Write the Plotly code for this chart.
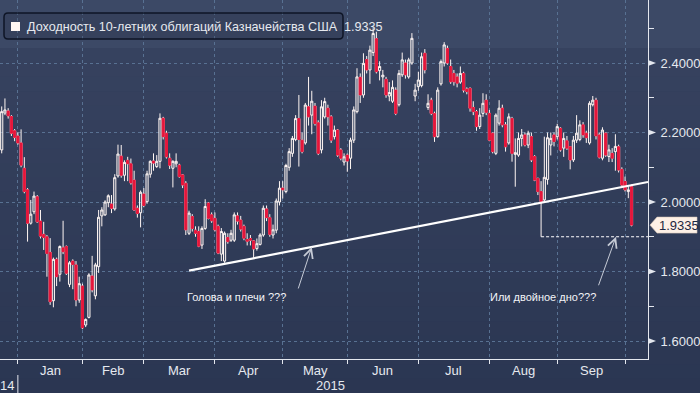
import plotly.graph_objects as go

# ---------------- data ----------------
months = ["2014-12", "2015-01", "2015-02", "2015-03", "2015-04", "2015-05",
          "2015-06", "2015-07", "2015-08", "2015-09", "2015-10"]
trading_days = {
    "2014-12": [23, 24, 26, 29, 30, 31],
    "2015-01": [2, 5, 6, 7, 8, 9, 12, 13, 14, 15, 16, 20, 21, 22, 23, 26, 27, 28, 29, 30],
    "2015-02": [2, 3, 4, 5, 6, 9, 10, 11, 12, 13, 17, 18, 19, 20, 23, 24, 25, 26, 27],
    "2015-03": [2, 3, 4, 5, 6, 9, 10, 11, 12, 13, 16, 17, 18, 19, 20, 23, 24, 25, 26, 27, 30, 31],
    "2015-04": [1, 2, 6, 7, 8, 9, 10, 13, 14, 15, 16, 17, 20, 21, 22, 23, 24, 27, 28, 29, 30],
    "2015-05": [1, 4, 5, 6, 7, 8, 11, 12, 13, 14, 15, 18, 19, 20, 21, 22, 26, 27, 28, 29],
    "2015-06": [1, 2, 3, 4, 5, 8, 9, 10, 11, 12, 15, 16, 17, 18, 19, 22, 23, 24, 25, 26, 29, 30],
    "2015-07": [1, 2, 6, 7, 8, 9, 10, 13, 14, 15, 16, 17, 20, 21, 22, 23, 24, 27, 28, 29, 30, 31],
    "2015-08": [3, 4, 5, 6, 7, 10, 11, 12, 13, 14, 17, 18, 19, 20, 21, 24, 25, 26, 27, 28, 31],
    "2015-09": [1, 2, 3, 4, 8, 9, 10, 11, 14, 15, 16, 17, 18, 21, 22, 23, 24, 25, 28, 29, 30],
    "2015-10": [1, 2],
}
month_labels = ["Jan", "Feb", "Mar", "Apr", "May", "Jun", "Jul", "Aug", "Sep"]

open_ = [
    2.150, 2.256, 2.262, 2.246, 2.205, 2.190,
    2.170, 2.097, 2.035, 1.939, 1.972, 2.015, 1.945, 1.907, 1.900, 1.855, 1.716, 1.835, 1.792, 1.868, 1.872, 1.763, 1.830, 1.819, 1.718, 1.758,
    1.646, 1.668, 1.787, 1.730, 1.814, 1.960, 1.963, 1.998, 1.994, 1.980, 2.075, 2.132, 2.077, 2.120, 2.110, 2.063, 1.982, 1.969, 2.023,
    2.001, 2.080, 2.118, 2.102, 2.117, 2.241, 2.198, 2.126, 2.097, 2.110, 2.106, 2.078, 2.054, 1.910, 1.958, 1.919, 1.915, 1.876, 1.924, 1.997, 1.963, 1.953,
    1.930, 1.850, 1.830, 1.898, 1.890, 1.890, 1.960, 1.948, 1.930, 1.892, 1.895, 1.888, 1.866, 1.878, 1.905, 1.980, 1.955, 1.905, 1.919, 2.000, 2.040,
    2.030, 2.100, 2.140, 2.180, 2.240, 2.178, 2.170, 2.274, 2.250, 2.276, 2.228, 2.150, 2.245, 2.270, 2.245, 2.188, 2.207, 2.150, 2.115, 2.135,
    2.126, 2.178, 2.260, 2.359, 2.308, 2.410, 2.380, 2.430, 2.470, 2.378, 2.360, 2.353, 2.305, 2.290, 2.322, 2.280, 2.366, 2.400, 2.360, 2.400, 2.305, 2.332,
    2.335, 2.428, 2.272, 2.293, 2.255, 2.188, 2.340, 2.400, 2.442, 2.390, 2.370, 2.360, 2.345, 2.370, 2.325, 2.327, 2.272, 2.260, 2.217, 2.255, 2.293, 2.255,
    2.198, 2.140, 2.227, 2.270, 2.222, 2.170, 2.240, 2.137, 2.135, 2.183, 2.193, 2.164, 2.188, 2.131, 2.068, 2.030, 2.006, 2.065, 2.164, 2.193, 2.188,
    2.212, 2.155, 2.176, 2.159, 2.121, 2.178, 2.180, 2.222, 2.198, 2.170, 2.280, 2.293, 2.193, 2.126, 2.198, 2.131, 2.140, 2.145, 2.159, 2.094, 2.059,
    2.030, 2.044,
]
high = [
    2.275, 2.298, 2.270, 2.250, 2.210, 2.200,
    2.209, 2.129, 2.040, 2.006, 2.030, 2.020, 1.977, 1.943, 1.905, 1.896, 1.840, 1.840, 1.875, 1.946, 1.875, 1.830, 1.835, 1.830, 1.785, 1.765,
    1.665, 1.795, 1.845, 1.825, 1.977, 1.985, 2.005, 2.022, 2.020, 2.080, 2.165, 2.164, 2.120, 2.130, 2.125, 2.090, 1.990, 2.033, 2.040,
    2.090, 2.120, 2.140, 2.135, 2.255, 2.245, 2.205, 2.140, 2.120, 2.140, 2.110, 2.080, 2.060, 1.975, 1.965, 1.930, 1.930, 1.930, 2.008, 2.000, 1.970, 1.970,
    1.935, 1.925, 1.915, 1.910, 1.920, 1.970, 1.970, 1.960, 1.935, 1.910, 1.905, 1.890, 1.895, 1.910, 1.990, 1.990, 1.965, 1.935, 2.010, 2.060, 2.060,
    2.110, 2.155, 2.190, 2.250, 2.308, 2.200, 2.285, 2.360, 2.320, 2.285, 2.235, 2.293, 2.300, 2.280, 2.250, 2.220, 2.210, 2.155, 2.140, 2.140,
    2.185, 2.275, 2.385, 2.370, 2.428, 2.420, 2.450, 2.500, 2.490, 2.405, 2.380, 2.360, 2.345, 2.350, 2.330, 2.380, 2.430, 2.410, 2.415, 2.486, 2.340, 2.375,
    2.430, 2.440, 2.310, 2.300, 2.260, 2.330, 2.410, 2.460, 2.450, 2.410, 2.380, 2.370, 2.390, 2.375, 2.330, 2.330, 2.290, 2.265, 2.270, 2.313, 2.310, 2.265,
    2.200, 2.255, 2.293, 2.280, 2.230, 2.255, 2.245, 2.183, 2.200, 2.210, 2.200, 2.205, 2.200, 2.135, 2.070, 2.060, 2.188, 2.200, 2.200, 2.200, 2.225,
    2.215, 2.200, 2.190, 2.160, 2.190, 2.250, 2.235, 2.230, 2.205, 2.290, 2.305, 2.300, 2.200, 2.215, 2.200, 2.165, 2.155, 2.195, 2.165, 2.100, 2.073,
    2.049, 2.050,
]
low = [
    2.140, 2.250, 2.240, 2.190, 2.175, 2.165,
    2.100, 2.025, 1.886, 1.935, 1.965, 1.940, 1.895, 1.862, 1.785, 1.704, 1.697, 1.758, 1.771, 1.850, 1.790, 1.755, 1.749, 1.700, 1.710, 1.634,
    1.640, 1.665, 1.740, 1.720, 1.796, 1.930, 1.960, 1.985, 1.968, 1.975, 2.070, 2.070, 2.060, 2.060, 2.050, 1.975, 1.955, 1.927, 1.985,
    1.995, 2.070, 2.090, 2.098, 2.097, 2.180, 2.125, 2.095, 2.042, 2.100, 2.070, 2.040, 1.905, 1.905, 1.915, 1.900, 1.870, 1.865, 1.920, 1.950, 1.940, 1.915,
    1.850, 1.830, 1.825, 1.880, 1.885, 1.885, 1.935, 1.915, 1.890, 1.875, 1.875, 1.839, 1.860, 1.875, 1.900, 1.945, 1.900, 1.895, 1.910, 1.990, 2.010,
    2.025, 2.090, 2.130, 2.175, 2.102, 2.140, 2.165, 2.220, 2.195, 2.220, 2.135, 2.140, 2.240, 2.220, 2.170, 2.180, 2.130, 2.120, 2.105, 2.087,
    2.095, 2.170, 2.255, 2.285, 2.300, 2.370, 2.340, 2.420, 2.370, 2.350, 2.330, 2.300, 2.290, 2.285, 2.250, 2.275, 2.360, 2.355, 2.355, 2.395, 2.290, 2.320,
    2.330, 2.370, 2.265, 2.250, 2.173, 2.185, 2.335, 2.390, 2.395, 2.340, 2.335, 2.330, 2.340, 2.315, 2.310, 2.260, 2.250, 2.205, 2.210, 2.245, 2.250, 2.175,
    2.140, 2.135, 2.220, 2.215, 2.145, 2.165, 2.116, 2.044, 2.130, 2.160, 2.160, 2.155, 2.115, 2.060, 2.020, 1.900, 2.000, 2.050, 2.134, 2.160, 2.180,
    2.145, 2.130, 2.150, 2.094, 2.115, 2.170, 2.175, 2.185, 2.170, 2.165, 2.275, 2.180, 2.125, 2.120, 2.130, 2.115, 2.115, 2.090, 2.085, 2.045, 2.030,
    2.011, 1.930,
]
close = [
    2.260, 2.265, 2.248, 2.198, 2.186, 2.170,
    2.106, 2.030, 1.939, 1.965, 2.017, 1.943, 1.902, 1.898, 1.852, 1.713, 1.835, 1.785, 1.872, 1.857, 1.795, 1.825, 1.820, 1.718, 1.765, 1.638,
    1.662, 1.790, 1.747, 1.819, 1.956, 1.977, 2.000, 2.018, 1.982, 2.070, 2.138, 2.077, 2.114, 2.110, 2.055, 1.977, 1.967, 2.028, 1.990,
    2.081, 2.117, 2.112, 2.117, 2.241, 2.188, 2.130, 2.106, 2.117, 2.117, 2.073, 2.049, 1.920, 1.968, 1.924, 1.910, 1.873, 1.924, 1.987, 1.953, 1.946, 1.920,
    1.853, 1.915, 1.910, 1.886, 1.910, 1.963, 1.945, 1.922, 1.896, 1.887, 1.890, 1.865, 1.880, 1.905, 1.982, 1.955, 1.907, 1.920, 2.003, 2.040, 2.035,
    2.105, 2.145, 2.183, 2.240, 2.180, 2.145, 2.279, 2.245, 2.290, 2.226, 2.140, 2.274, 2.289, 2.245, 2.178, 2.207, 2.135, 2.126, 2.130, 2.118,
    2.178, 2.265, 2.360, 2.308, 2.399, 2.380, 2.437, 2.485, 2.375, 2.390, 2.365, 2.308, 2.315, 2.330, 2.255, 2.370, 2.409, 2.366, 2.409, 2.471, 2.322, 2.351,
    2.418, 2.380, 2.284, 2.255, 2.188, 2.322, 2.404, 2.452, 2.400, 2.346, 2.346, 2.342, 2.370, 2.322, 2.318, 2.270, 2.260, 2.217, 2.250, 2.284, 2.258, 2.178,
    2.145, 2.250, 2.270, 2.222, 2.159, 2.245, 2.140, 2.142, 2.183, 2.193, 2.164, 2.198, 2.121, 2.063, 2.030, 2.001, 2.071, 2.185, 2.183, 2.174, 2.217,
    2.150, 2.183, 2.155, 2.121, 2.178, 2.198, 2.222, 2.193, 2.185, 2.284, 2.293, 2.190, 2.129, 2.207, 2.135, 2.150, 2.126, 2.160, 2.092, 2.049, 2.035,
    2.035, 1.9335,
]

y_major = [1.6, 1.8, 2.0, 2.2, 2.4]
y_minor = [1.7, 1.9, 2.1, 2.3, 2.5]

legend_title = "Доходность 10-летних облигаций Казначейства США"
note_hs = "Голова и плечи ???"
note_db = "Или двойное дно???"

# trend line drawn on the chart (start / end in index, yield)
trend_x = [58.0, 200.1]
trend_y = [1.8023, 2.0576]
level_day = "2015-08-24"   # low of this day marks the dashed level line

# ---------------- layout constants ----------------
W, H = 700, 393
ML, MR, MT, MB = 0, 52, 0, 34
PW, PH = W - ML - MR, H - MT - MB
X_MIN, X_MAX = -0.53, 200.1
Y_MIN, Y_MAX = 1.5482, 2.5813

RED = "#e5163b"
WHITE = "#fff6f3"
AXIS = "#e4e7ee"
GRID = "#587192"
TXT = "#e6e9ef"
FONT = "Liberation Sans"

dates = [f"{m}-{d:02d}" for m in months for d in trading_days[m]]
idx = list(range(len(dates)))

month_end = []
pos = -1
for m in months[:-1]:
    pos += len(trading_days[m])
    month_end.append(pos)


def pxx(px):
    return px / PW


def pyy(py):
    return 1 - py / PH


def val2py(v):
    return (Y_MAX - v) / (Y_MAX - Y_MIN) * PH


fig = go.Figure()

# all candles (white wicks / outline)
fig.add_trace(go.Candlestick(
    x=idx, open=open_, high=high, low=low, close=close,
    increasing=dict(line=dict(color=WHITE, width=1), fillcolor="rgba(255,255,255,0.12)"),
    decreasing=dict(line=dict(color=WHITE, width=1), fillcolor=RED),
    whiskerwidth=0, hoverinfo="skip", showlegend=False))

# red bodies drawn over the down candles
red_i = [i for i in idx if close[i] < open_[i]]
fig.add_trace(go.Candlestick(
    x=red_i,
    open=[open_[i] for i in red_i],
    high=[max(open_[i], close[i]) for i in red_i],
    low=[min(open_[i], close[i]) for i in red_i],
    close=[close[i] for i in red_i],
    increasing=dict(line=dict(color=RED, width=1), fillcolor=RED),
    decreasing=dict(line=dict(color=RED, width=1), fillcolor=RED),
    whiskerwidth=0, hoverinfo="skip", showlegend=False))

shapes = []
# background gradient
shapes.append(dict(type="rect", xref="paper", yref="paper", x0=0, x1=pxx(W), y0=pyy(0), y1=pyy(48),
                   fillcolor="#3c4966", line=dict(width=0), layer="below"))
c0, c1 = (54, 66, 95), (43, 54, 82)
n = 24
for k in range(n):
    t = k / (n - 1)
    col = tuple(round(c0[j] + (c1[j] - c0[j]) * t) for j in range(3))
    ya = 48 + (H - 48) * k / n
    yb = 48 + (H - 48) * (k + 1) / n + 0.5
    shapes.append(dict(type="rect", xref="paper", yref="paper", x0=0, x1=pxx(W), y0=pyy(yb), y1=pyy(ya),
                       fillcolor="rgb(%d,%d,%d)" % col, line=dict(width=0), layer="below"))

# trend line
shapes.append(dict(type="line", xref="x", yref="y", x0=trend_x[0], y0=trend_y[0], x1=trend_x[1], y1=trend_y[1],
                   line=dict(color="#ffffff", width=2.2)))
# dashed level line at the August low
li = dates.index(level_day)
shapes.append(dict(type="line", xref="x", yref="y", x0=li, x1=X_MAX, y0=low[li], y1=low[li],
                   line=dict(color="#ffffff", width=1, dash="3px,2px")))

# legend box (rounded)
lx0, lx1, ly0, ly1, r = 4, 343, 13, 39, 4
path = (f"M {pxx(lx0 + r)},{pyy(ly0)} L {pxx(lx1 - r)},{pyy(ly0)} Q {pxx(lx1)},{pyy(ly0)} {pxx(lx1)},{pyy(ly0 + r)} "
        f"L {pxx(lx1)},{pyy(ly1 - r)} Q {pxx(lx1)},{pyy(ly1)} {pxx(lx1 - r)},{pyy(ly1)} "
        f"L {pxx(lx0 + r)},{pyy(ly1)} Q {pxx(lx0)},{pyy(ly1)} {pxx(lx0)},{pyy(ly1 - r)} "
        f"L {pxx(lx0)},{pyy(ly0 + r)} Q {pxx(lx0)},{pyy(ly0)} {pxx(lx0 + r)},{pyy(ly0)} Z")
shapes.append(dict(type="path", xref="paper", yref="paper", path=path,
                   fillcolor="rgba(25,32,50,0.18)", line=dict(color="#0e1526", width=1.5)))
shapes.append(dict(type="rect", xref="paper", yref="paper", x0=pxx(11), x1=pxx(20), y0=pyy(31), y1=pyy(22),
                   fillcolor=WHITE, line=dict(width=0)))

# right-axis tick triangles
for v in y_major:
    py = val2py(v)
    shapes.append(dict(type="path", xref="paper", yref="paper",
                       path=f"M {pxx(PW)},{pyy(py - 3)} L {pxx(PW + 8)},{pyy(py)} L {pxx(PW)},{pyy(py + 3)} Z",
                       fillcolor=AXIS, line=dict(width=0)))

# last value tag
tp = val2py(close[-1])
shapes.append(dict(type="path", xref="paper", yref="paper",
                   path=(f"M {pxx(PW + 2)},{pyy(tp)} L {pxx(PW + 9)},{pyy(tp - 8)} L {pxx(W - 3)},{pyy(tp - 8)} "
                         f"L {pxx(W - 3)},{pyy(tp + 8)} L {pxx(PW + 9)},{pyy(tp + 8)} Z"),
                   fillcolor="#fdf0e6", line=dict(color="#d8c8b8", width=0.6)))

# year separator
shapes.append(dict(type="line", xref="x", yref="paper", x0=month_end[0], x1=month_end[0],
                   y0=pyy(PH + 16), y1=pyy(H), line=dict(color=AXIS, width=1)))

annotations = []
# legend text
annotations.append(dict(xref="paper", yref="paper", x=pxx(25), y=pyy(26.5), xanchor="left", yanchor="middle",
                        text=f"{legend_title}\u00a0 {close[-1]:.4f}", showarrow=False,
                        font=dict(family=FONT, size=12.6, color=TXT)))
# tag text
annotations.append(dict(xref="paper", yref="paper", x=pxx(PW + 9), y=pyy(tp), xanchor="left", yanchor="middle",
                        text=f"{close[-1]:.4f}", showarrow=False,
                        font=dict(family=FONT, size=13, color="#1d2740")))
# month labels
bounds = month_end
for k, name in enumerate(month_labels):
    annotations.append(dict(xref="x", yref="paper", x=(bounds[k] + bounds[k + 1]) / 2, y=pyy(PH + 11),
                            text=name, showarrow=False, xanchor="center", yanchor="middle",
                            font=dict(family=FONT, size=13, color=TXT)))
annotations.append(dict(xref="paper", yref="paper", x=0, y=pyy(PH + 26), text="14", showarrow=False,
                        xanchor="left", yanchor="middle", xshift=-2,
                        font=dict(family=FONT, size=13, color=TXT)))
annotations.append(dict(xref="x", yref="paper", x=month_end[5], y=pyy(PH + 26), text="2015", showarrow=False,
                        xanchor="right", yanchor="middle", font=dict(family=FONT, size=13, color=TXT)))


def trend_at(x):
    return trend_y[0] + (trend_y[1] - trend_y[0]) * (x - trend_x[0]) / (trend_x[1] - trend_x[0])


# notes
annotations.append(dict(xref="x", yref="y", x=72.7, y=1.7266, text=note_hs, showarrow=False,
                        font=dict(family=FONT, size=11, color="#f2f4f8")))
annotations.append(dict(xref="x", yref="y", x=167.7, y=1.7266, text=note_db, showarrow=False,
                        font=dict(family=FONT, size=11, color="#f2f4f8")))
# arrows
annotations.append(dict(xref="x", yref="y", x=96, y=trend_at(96), ax=-14, ay=43, text="", showarrow=True,
                        arrowhead=5, arrowsize=1.8, arrowwidth=1, arrowcolor="#c6cbd6", standoff=0))
annotations.append(dict(xref="x", yref="y", x=190.2, y=low[li], ax=-18, ay=50, text="", showarrow=True,
                        arrowhead=5, arrowsize=1.8, arrowwidth=1, arrowcolor="#c6cbd6", standoff=0))

fig.update_layout(
    width=W, height=H,
    margin=dict(l=ML, r=MR, t=MT, b=MB),
    paper_bgcolor="#2c3653", plot_bgcolor="rgba(0,0,0,0)",
    showlegend=False, boxmode="overlay", boxgap=0.05,
    font=dict(family=FONT, color=TXT),
    shapes=shapes, annotations=annotations,
    xaxis=dict(range=[X_MIN, X_MAX], rangeslider=dict(visible=False), fixedrange=True,
               tickmode="array", tickvals=month_end, showticklabels=False,
               ticks="outside", ticklen=4, tickcolor=AXIS,
               showgrid=True, gridcolor=GRID, gridwidth=1, griddash="3px,3px",
               showline=True, linecolor=AXIS, linewidth=1, zeroline=False),
    yaxis=dict(side="right", range=[Y_MIN, Y_MAX], fixedrange=True,
               tickmode="array", tickvals=y_major, ticktext=[f"{v:.4f}" for v in y_major],
               ticks="outside", ticklen=9, tickcolor="rgba(0,0,0,0)",
               tickfont=dict(family=FONT, size=13, color=TXT),
               showgrid=True, gridcolor=GRID, gridwidth=1, griddash="3px,3px",
               minor=dict(tickmode="array", tickvals=y_minor, ticks="outside", ticklen=5,
                          tickcolor=AXIS, showgrid=False),
               showline=True, linecolor=AXIS, linewidth=1, zeroline=False),
)

fig.write_html("out.html", config={"displayModeBar": False},
               post_script="document.body.style.margin='0';document.body.style.background='#2c3653';")
